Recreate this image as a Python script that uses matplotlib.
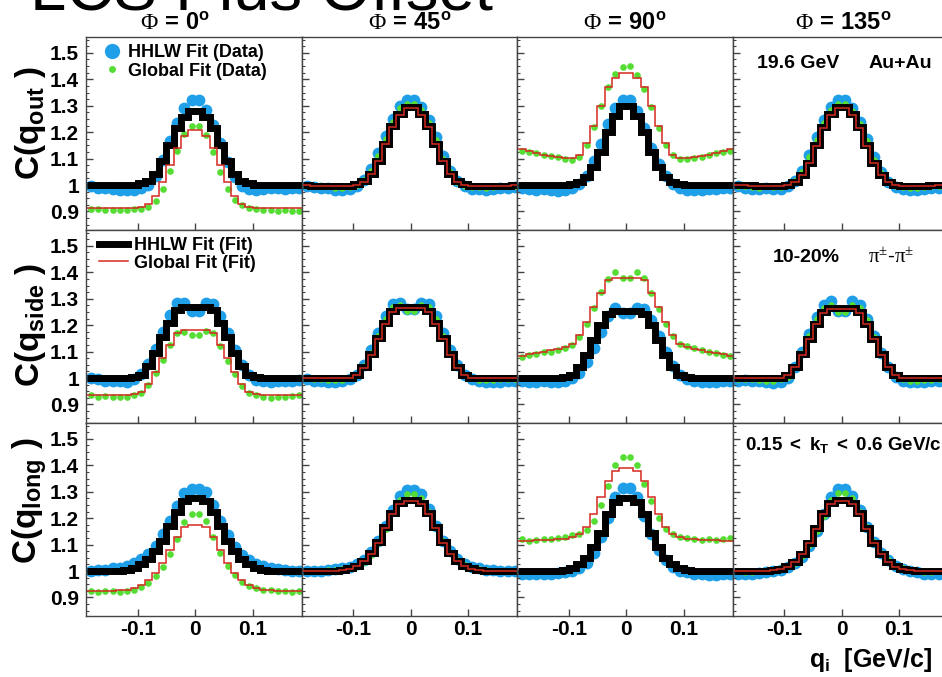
# Correlation functions C(q) in out/side/long vs azimuthal angle, HHLW vs global fit

import numpy as np
import matplotlib
matplotlib.use("Agg")
import matplotlib.pyplot as plt
from matplotlib.lines import Line2D
from matplotlib.ticker import AutoMinorLocator, FixedLocator, FuncFormatter

# Histogram binning in q (GeV/c)
q_edges = np.arange(31) * 0.0125 - 0.1875
q_centers = 0.5 * (q_edges[:-1] + q_edges[1:])

phi_values = ["0", "45", "90", "135"]
projections = ["out", "side", "long"]

# ---- q_out ----
out_0_hhlw_data = [0.995, 0.99, 0.988, 0.985, 0.982, 0.98, 0.983, 0.988, 1.002, 1.035, 1.095, 1.165, 1.235, 1.29, 1.32,
                   1.32, 1.285, 1.228, 1.158, 1.088, 1.03, 0.998, 0.985, 0.982, 0.985, 0.988, 0.99, 0.985, 0.988, 0.99]
out_0_global_data = [0.91, 0.908, 0.905, 0.906, 0.904, 0.905, 0.908, 0.91, 0.918, 0.94, 0.985, 1.055, 1.13, 1.195, 1.225,
                     1.225, 1.19, 1.125, 1.05, 0.985, 0.945, 0.925, 0.915, 0.91, 0.906, 0.904, 0.903, 0.905, 0.903, 0.9]
out_0_hhlw_fit = [1.0, 1.0, 1.0, 1.0, 1.0, 1.0, 1.002, 1.006, 1.016, 1.042, 1.092, 1.153, 1.215, 1.258, 1.28,
                  1.28, 1.258, 1.215, 1.153, 1.092, 1.042, 1.016, 1.006, 1.002, 1.0, 1.0, 1.0, 1.0, 1.0, 1.0]
out_0_global_fit = [0.912, 0.912, 0.912, 0.912, 0.912, 0.912, 0.914, 0.918, 0.929, 0.957, 1.01, 1.075, 1.141, 1.186, 1.21,
                    1.21, 1.186, 1.141, 1.075, 1.01, 0.957, 0.929, 0.918, 0.914, 0.912, 0.912, 0.912, 0.912, 0.912, 0.912]

out_45_hhlw_data = [0.995, 0.993, 0.99, 0.988, 0.982, 0.98, 0.985, 0.995, 1.02, 1.06, 1.12, 1.185, 1.25, 1.30, 1.32,
                    1.32, 1.295, 1.245, 1.18, 1.11, 1.055, 1.015, 0.995, 0.985, 0.985, 0.982, 0.985, 0.988, 0.99, 0.992]
out_45_global_data = [1.0, 0.998, 0.996, 0.995, 0.99, 0.99, 0.993, 1.0, 1.02, 1.052, 1.11, 1.175, 1.24, 1.29, 1.305,
                      1.305, 1.285, 1.235, 1.17, 1.10, 1.048, 1.012, 0.998, 0.993, 0.992, 0.99, 0.993, 0.995, 0.997, 0.997]
out_45_hhlw_fit = [1.0, 0.998, 0.997, 0.996, 0.995, 0.995, 0.998, 1.003, 1.014, 1.042, 1.092, 1.157, 1.222, 1.27, 1.295,
                   1.295, 1.27, 1.222, 1.157, 1.092, 1.042, 1.014, 1.003, 0.998, 0.995, 0.995, 0.996, 0.997, 0.998, 1.0]
out_45_global_fit = [0.999, 0.998, 0.997, 0.996, 0.995, 0.995, 0.997, 1.002, 1.013, 1.041, 1.091, 1.155, 1.219, 1.266, 1.29,
                     1.29, 1.266, 1.219, 1.155, 1.091, 1.041, 1.013, 1.002, 0.997, 0.995, 0.995, 0.996, 0.997, 0.998, 0.999]

out_90_hhlw_data = [0.99, 0.985, 0.982, 0.985, 0.98, 0.978, 0.982, 0.99, 1.005, 1.035, 1.09, 1.155, 1.23, 1.29, 1.32,
                    1.32, 1.28, 1.215, 1.14, 1.08, 1.035, 1.005, 0.99, 0.982, 0.98, 0.982, 0.985, 0.985, 0.988, 0.99]
out_90_global_data = [1.13, 1.125, 1.12, 1.115, 1.11, 1.105, 1.10, 1.095, 1.105, 1.15, 1.22, 1.30, 1.37, 1.42, 1.445,
                      1.45, 1.415, 1.365, 1.295, 1.215, 1.15, 1.112, 1.10, 1.098, 1.102, 1.108, 1.112, 1.12, 1.125, 1.13]
out_90_hhlw_fit = [1.0, 1.0, 1.0, 1.0, 1.0, 1.0, 1.0, 1.003, 1.01, 1.03, 1.07, 1.125, 1.20, 1.262, 1.30,
                   1.30, 1.262, 1.20, 1.125, 1.07, 1.03, 1.01, 1.003, 1.0, 1.0, 1.0, 1.0, 1.0, 1.0, 1.0]
out_90_global_fit = [1.135, 1.127, 1.12, 1.115, 1.11, 1.106, 1.104, 1.104, 1.115, 1.16, 1.225, 1.30, 1.37, 1.405, 1.425,
                     1.425, 1.405, 1.37, 1.30, 1.225, 1.16, 1.115, 1.104, 1.104, 1.106, 1.11, 1.115, 1.12, 1.127, 1.135]

out_135_hhlw_data = [0.995, 0.99, 0.985, 0.985, 0.99, 0.985, 0.985, 0.995, 1.015, 1.055, 1.115, 1.18, 1.245, 1.295, 1.32,
                     1.32, 1.29, 1.24, 1.175, 1.105, 1.05, 1.012, 0.992, 0.985, 0.98, 0.983, 0.985, 0.99, 0.99, 0.988]
out_135_global_data = [0.998, 0.995, 0.993, 0.99, 0.995, 0.992, 0.993, 1.0, 1.015, 1.048, 1.105, 1.17, 1.235, 1.285, 1.305,
                       1.305, 1.28, 1.23, 1.165, 1.095, 1.045, 1.01, 0.997, 0.992, 0.99, 0.99, 0.993, 0.995, 0.995, 0.995]
out_135_hhlw_fit = [1.0, 1.0, 0.999, 0.998, 0.997, 0.997, 0.998, 1.002, 1.012, 1.038, 1.085, 1.15, 1.218, 1.268, 1.295,
                    1.295, 1.268, 1.218, 1.15, 1.085, 1.038, 1.012, 1.002, 0.998, 0.997, 0.997, 0.998, 0.999, 1.0, 1.0]
out_135_global_fit = [1.0, 0.999, 0.998, 0.997, 0.996, 0.996, 0.997, 1.001, 1.011, 1.037, 1.084, 1.148, 1.215, 1.264, 1.29,
                      1.29, 1.264, 1.215, 1.148, 1.084, 1.037, 1.011, 1.001, 0.997, 0.996, 0.996, 0.997, 0.998, 0.999, 1.0]

# ---- q_side ----
side_0_hhlw_data = [1.0, 0.995, 0.99, 0.99, 0.988, 0.985, 0.995, 1.015, 1.055, 1.11, 1.175, 1.24, 1.285, 1.285, 1.255,
                    1.255, 1.285, 1.28, 1.235, 1.17, 1.105, 1.05, 1.012, 0.993, 0.987, 0.985, 0.988, 0.99, 0.99, 0.992]
side_0_global_data = [0.935, 0.93, 0.932, 0.928, 0.93, 0.928, 0.935, 0.945, 0.975, 1.02, 1.07, 1.125, 1.17, 1.175, 1.163,
                      1.163, 1.178, 1.17, 1.12, 1.065, 1.015, 0.97, 0.945, 0.935, 0.928, 0.925, 0.93, 0.93, 0.932, 0.935]
side_0_hhlw_fit = [1.0, 1.0, 1.0, 1.0, 1.0, 1.0, 1.003, 1.013, 1.045, 1.095, 1.155, 1.21, 1.258, 1.27, 1.27,
                   1.27, 1.27, 1.258, 1.21, 1.155, 1.095, 1.045, 1.013, 1.003, 1.0, 1.0, 1.0, 1.0, 1.0, 1.0]
side_0_global_fit = [0.937, 0.937, 0.937, 0.937, 0.937, 0.937, 0.94, 0.949, 0.978, 1.023, 1.076, 1.126, 1.169, 1.18, 1.18,
                     1.18, 1.18, 1.169, 1.126, 1.076, 1.023, 0.978, 0.949, 0.94, 0.937, 0.937, 0.937, 0.937, 0.937, 0.937]

side_45_hhlw_data = [0.995, 0.99, 0.988, 0.985, 0.985, 0.988, 0.995, 1.012, 1.05, 1.105, 1.17, 1.235, 1.28, 1.285, 1.26,
                     1.26, 1.285, 1.28, 1.235, 1.17, 1.105, 1.05, 1.012, 0.995, 0.988, 0.985, 0.985, 0.985, 0.988, 0.99]
side_45_global_data = [1.0, 0.997, 0.995, 0.993, 0.992, 0.993, 1.0, 1.012, 1.045, 1.095, 1.16, 1.225, 1.27, 1.275, 1.255,
                       1.255, 1.275, 1.27, 1.225, 1.16, 1.095, 1.045, 1.012, 1.0, 0.993, 0.992, 0.993, 0.995, 0.997, 0.997]
side_45_hhlw_fit = [1.0, 1.0, 1.0, 1.0, 1.0, 1.0, 1.002, 1.012, 1.04, 1.09, 1.15, 1.21, 1.255, 1.27, 1.27,
                    1.27, 1.27, 1.255, 1.21, 1.15, 1.09, 1.04, 1.012, 1.002, 1.0, 1.0, 1.0, 1.0, 1.0, 1.0]
side_45_global_fit = [0.999, 0.999, 0.999, 0.999, 0.999, 0.999, 1.001, 1.011, 1.039, 1.088, 1.147, 1.206, 1.25, 1.265, 1.265,
                      1.265, 1.265, 1.25, 1.206, 1.147, 1.088, 1.039, 1.011, 1.001, 0.999, 0.999, 0.999, 0.999, 0.999, 0.999]

side_90_hhlw_data = [0.99, 0.985, 0.985, 0.988, 0.985, 0.985, 0.99, 1.0, 1.02, 1.06, 1.115, 1.175, 1.235, 1.265, 1.245,
                     1.245, 1.265, 1.26, 1.22, 1.16, 1.1, 1.045, 1.012, 0.995, 0.988, 0.985, 0.985, 0.985, 0.988, 0.99]
side_90_global_data = [1.08, 1.088, 1.09, 1.097, 1.10, 1.108, 1.115, 1.125, 1.155, 1.205, 1.265, 1.325, 1.375, 1.40, 1.38,
                       1.38, 1.40, 1.38, 1.32, 1.26, 1.205, 1.16, 1.13, 1.12, 1.112, 1.105, 1.10, 1.093, 1.088, 1.085]
side_90_hhlw_fit = [1.0, 1.0, 1.0, 1.0, 1.0, 1.0, 1.003, 1.012, 1.042, 1.088, 1.145, 1.2, 1.243, 1.255, 1.255,
                    1.255, 1.255, 1.243, 1.2, 1.145, 1.088, 1.042, 1.012, 1.003, 1.0, 1.0, 1.0, 1.0, 1.0, 1.0]
side_90_global_fit = [1.085, 1.09, 1.095, 1.10, 1.105, 1.11, 1.118, 1.13, 1.163, 1.212, 1.269, 1.322, 1.369, 1.38, 1.38,
                      1.38, 1.38, 1.369, 1.322, 1.269, 1.212, 1.163, 1.13, 1.118, 1.11, 1.105, 1.10, 1.095, 1.09, 1.085]

side_135_hhlw_data = [0.99, 0.992, 0.99, 0.988, 0.985, 0.98, 0.985, 1.0, 1.04, 1.1, 1.165, 1.23, 1.275, 1.29, 1.255,
                      1.255, 1.29, 1.275, 1.225, 1.16, 1.095, 1.04, 1.005, 0.99, 0.985, 0.985, 0.985, 0.988, 0.99, 0.99]
side_135_global_data = [0.997, 0.995, 0.995, 0.993, 0.99, 0.99, 0.995, 1.005, 1.04, 1.095, 1.16, 1.225, 1.265, 1.275, 1.25,
                        1.25, 1.275, 1.265, 1.22, 1.155, 1.09, 1.04, 1.007, 0.995, 0.99, 0.99, 0.992, 0.993, 0.995, 0.995]
side_135_hhlw_fit = [1.0, 1.0, 1.0, 1.0, 1.0, 1.0, 1.002, 1.012, 1.04, 1.09, 1.148, 1.205, 1.25, 1.265, 1.265,
                     1.265, 1.265, 1.25, 1.205, 1.148, 1.09, 1.04, 1.012, 1.002, 1.0, 1.0, 1.0, 1.0, 1.0, 1.0]
side_135_global_fit = [1.0, 1.0, 1.0, 1.0, 1.0, 1.0, 1.002, 1.012, 1.04, 1.089, 1.146, 1.203, 1.247, 1.262, 1.262,
                       1.262, 1.262, 1.247, 1.203, 1.146, 1.089, 1.04, 1.012, 1.002, 1.0, 1.0, 1.0, 1.0, 1.0, 1.0]

# ---- q_long ----
long_0_hhlw_data = [1.0, 1.003, 1.005, 1.01, 1.013, 1.02, 1.03, 1.045, 1.065, 1.095, 1.14, 1.19, 1.245, 1.295, 1.31,
                    1.31, 1.30, 1.25, 1.19, 1.135, 1.09, 1.06, 1.04, 1.028, 1.02, 1.012, 1.008, 1.005, 1.002, 1.0]
long_0_global_data = [0.925, 0.922, 0.923, 0.925, 0.922, 0.926, 0.93, 0.94, 0.955, 0.98, 1.015, 1.065, 1.12, 1.185, 1.215,
                      1.215, 1.19, 1.13, 1.07, 1.02, 0.985, 0.96, 0.945, 0.935, 0.93, 0.927, 0.925, 0.924, 0.922, 0.925]
long_0_hhlw_fit = [1.0, 1.0, 1.0, 1.0, 1.002, 1.005, 1.012, 1.025, 1.045, 1.075, 1.115, 1.17, 1.225, 1.265, 1.275,
                   1.275, 1.265, 1.225, 1.17, 1.115, 1.075, 1.045, 1.025, 1.012, 1.005, 1.002, 1.0, 1.0, 1.0, 1.0]
long_0_global_fit = [0.925, 0.925, 0.925, 0.925, 0.927, 0.93, 0.936, 0.948, 0.966, 0.993, 1.03, 1.08, 1.129, 1.166, 1.175,
                     1.175, 1.166, 1.129, 1.08, 1.03, 0.993, 0.966, 0.948, 0.936, 0.93, 0.927, 0.925, 0.925, 0.925, 0.925]

long_45_hhlw_data = [1.0, 1.0, 1.002, 1.003, 1.006, 1.01, 1.016, 1.025, 1.042, 1.072, 1.115, 1.17, 1.23, 1.285, 1.305,
                     1.305, 1.29, 1.235, 1.17, 1.115, 1.075, 1.045, 1.028, 1.015, 1.01, 1.005, 1.003, 1.0, 1.0, 1.0]
long_45_global_data = [1.0, 1.0, 1.002, 1.003, 1.005, 1.008, 1.012, 1.02, 1.035, 1.062, 1.105, 1.16, 1.22, 1.27, 1.29,
                       1.29, 1.275, 1.225, 1.165, 1.112, 1.07, 1.04, 1.022, 1.012, 1.006, 1.003, 1.002, 1.0, 1.0, 1.0]
long_45_hhlw_fit = [1.0, 1.0, 1.0, 1.0, 1.001, 1.004, 1.01, 1.02, 1.038, 1.068, 1.11, 1.165, 1.22, 1.258, 1.27,
                    1.27, 1.258, 1.22, 1.165, 1.11, 1.068, 1.038, 1.02, 1.01, 1.004, 1.001, 1.0, 1.0, 1.0, 1.0]
long_45_global_fit = [1.0, 1.0, 1.0, 1.0, 1.001, 1.004, 1.009, 1.019, 1.037, 1.066, 1.108, 1.162, 1.217, 1.254, 1.265,
                      1.265, 1.254, 1.217, 1.162, 1.108, 1.066, 1.037, 1.019, 1.009, 1.004, 1.001, 1.0, 1.0, 1.0, 1.0]

long_90_hhlw_data = [0.99, 0.988, 0.99, 0.988, 0.99, 0.992, 0.995, 1.0, 1.01, 1.03, 1.07, 1.13, 1.2, 1.28, 1.315,
                     1.315, 1.28, 1.21, 1.14, 1.08, 1.04, 1.015, 1.002, 0.995, 0.99, 0.988, 0.985, 0.985, 0.988, 0.99]
long_90_global_data = [1.12, 1.115, 1.118, 1.12, 1.123, 1.125, 1.13, 1.135, 1.14, 1.155, 1.19, 1.25, 1.32, 1.40, 1.43,
                       1.43, 1.40, 1.33, 1.265, 1.2, 1.16, 1.14, 1.13, 1.125, 1.12, 1.118, 1.12, 1.118, 1.122, 1.125]
long_90_hhlw_fit = [1.0, 1.0, 1.0, 1.0, 1.0, 1.0, 1.005, 1.012, 1.025, 1.05, 1.09, 1.145, 1.215, 1.262, 1.275,
                    1.275, 1.262, 1.215, 1.145, 1.09, 1.05, 1.025, 1.012, 1.005, 1.0, 1.0, 1.0, 1.0, 1.0, 1.0]
long_90_global_fit = [1.115, 1.115, 1.116, 1.117, 1.118, 1.12, 1.122, 1.128, 1.14, 1.165, 1.215, 1.28, 1.34, 1.38, 1.39,
                      1.39, 1.38, 1.34, 1.28, 1.215, 1.165, 1.14, 1.128, 1.122, 1.12, 1.118, 1.117, 1.116, 1.115, 1.115]

long_135_hhlw_data = [0.99, 0.988, 0.99, 0.992, 0.995, 1.0, 1.005, 1.015, 1.03, 1.055, 1.095, 1.15, 1.215, 1.28, 1.31,
                      1.31, 1.285, 1.23, 1.165, 1.11, 1.07, 1.04, 1.02, 1.008, 1.0, 0.995, 0.99, 0.988, 0.988, 0.99]
long_135_global_data = [1.0, 0.998, 0.998, 1.0, 1.002, 1.005, 1.01, 1.018, 1.032, 1.058, 1.098, 1.15, 1.21, 1.27, 1.295,
                        1.295, 1.275, 1.225, 1.165, 1.11, 1.07, 1.04, 1.02, 1.01, 1.004, 1.0, 0.998, 0.998, 1.0, 1.0]
long_135_hhlw_fit = [1.0, 1.0, 1.0, 1.0, 1.0, 1.003, 1.008, 1.018, 1.036, 1.066, 1.108, 1.163, 1.218, 1.258, 1.27,
                     1.27, 1.258, 1.218, 1.163, 1.108, 1.066, 1.036, 1.018, 1.008, 1.003, 1.0, 1.0, 1.0, 1.0, 1.0]
long_135_global_fit = [1.0, 1.0, 1.0, 1.0, 1.0, 1.003, 1.008, 1.017, 1.035, 1.065, 1.106, 1.16, 1.215, 1.254, 1.265,
                       1.265, 1.254, 1.215, 1.16, 1.106, 1.065, 1.035, 1.017, 1.008, 1.003, 1.0, 1.0, 1.0, 1.0, 1.0]


def plot_outputs():
    plt.rcParams["font.family"] = ["Liberation Sans", "DejaVu Sans"]
    plt.rcParams["mathtext.fontset"] = "custom"
    plt.rcParams["mathtext.rm"] = "Liberation Sans"
    plt.rcParams["mathtext.bf"] = "Liberation Sans:bold"
    plt.rcParams["mathtext.it"] = "Liberation Sans:italic"
    plt.rcParams["mathtext.sf"] = "Liberation Serif"  # used for the greek letters

    blue = "#1f9fe8"
    green = "#55dd33"
    red = "#d42a20"
    frame = "#444444"

    g = globals()
    panels = {}
    for proj in projections:
        for phi in phi_values:
            key = proj + "_" + phi
            panels[(proj, phi)] = (
                g[key + "_hhlw_data"],
                g[key + "_global_data"],
                g[key + "_hhlw_fit"],
                g[key + "_global_fit"],
            )

    W, H = 942, 677
    fig = plt.figure(figsize=(W / 100, H / 100), dpi=100)

    col_left = [86, 301.5, 517, 732.5]
    col_w = 215.5
    row_top = [37, 230, 423]
    row_h = 193

    axarr = {}
    for i, proj in enumerate(projections):
        for j, phi in enumerate(phi_values):
            ax = fig.add_axes([col_left[j] / W, 1 - (row_top[i] + row_h) / H, col_w / W, row_h / H])
            axarr[(i, j)] = ax
            hd, gd, hf, gf = panels[(proj, phi)]

            ax.plot(q_centers, hd, "o", color=blue, ms=8.5, mec="none", zorder=1)
            ax.plot(q_centers, gd, "o", color=green, ms=4.8, mec="none", zorder=2)
            ax.stairs(hf, q_edges, baseline=None, color="k", linewidth=5, zorder=3)
            ax.stairs(gf, q_edges, baseline=None, color=red, linewidth=1.1, zorder=4)

            ax.set_xlim(-0.19, 0.185)
            ax.set_ylim(0.83, 1.56)
            ax.xaxis.set_major_locator(FixedLocator([-0.1, 0, 0.1]))
            ax.yaxis.set_major_locator(FixedLocator([0.9, 1.0, 1.1, 1.2, 1.3, 1.4, 1.5]))
            ax.yaxis.set_minor_locator(AutoMinorLocator(4))
            ax.yaxis.set_major_formatter(FuncFormatter(lambda v, p: "%g" % round(v, 2)))
            ax.xaxis.set_major_formatter(FuncFormatter(lambda v, p: "%g" % round(v, 2)))
            ax.tick_params(axis="both", which="both", direction="in", color=frame,
                           top=False, right=False)
            ax.tick_params(axis="x", which="major", length=5, width=1, pad=3,
                           labelsize=15, labelbottom=(i == 2))
            ax.tick_params(axis="y", which="major", length=5, width=1, pad=5,
                           labelsize=15, labelleft=(j == 0))
            ax.tick_params(axis="y", which="minor", length=2.5, width=0.8)
            for lab in ax.get_xticklabels() + ax.get_yticklabels():
                lab.set_fontweight("bold")
            for sp in ax.spines.values():
                sp.set_color(frame)
                sp.set_linewidth(1.0)

    # Legends
    data_handles = [
        Line2D([], [], marker="o", ls="none", color=blue, ms=11, mec="none"),
        Line2D([], [], marker="o", ls="none", color=green, ms=5, mec="none"),
    ]
    axarr[(0, 0)].legend(data_handles, ["HHLW Fit (Data)", "Global Fit (Data)"],
                         loc="upper left", bbox_to_anchor=(0.01, 1.03), frameon=False,
                         prop={"weight": "bold", "size": 13}, handlelength=1.2,
                         handletextpad=0.3, labelspacing=0.1, borderaxespad=0.3)
    fit_handles = [
        Line2D([], [], color="k", lw=5),
        Line2D([], [], color=red, lw=1.1),
    ]
    axarr[(1, 0)].legend(fit_handles, ["HHLW Fit (Fit)", "Global Fit (Fit)"],
                         loc="upper left", bbox_to_anchor=(0.0, 1.03), frameon=False,
                         prop={"weight": "bold", "size": 13}, handlelength=1.6,
                         handletextpad=0.35, labelspacing=0.05, borderaxespad=0.3)

    # Annotations in the last column
    ax = axarr[(0, 3)]
    ax.text(0.116, 0.865, "19.6 GeV", transform=ax.transAxes, fontsize=14,
            fontweight="bold", va="center", ha="left")
    ax.text(0.63, 0.865, "Au+Au", transform=ax.transAxes, fontsize=14,
            fontweight="bold", va="center", ha="left")
    ax = axarr[(1, 3)]
    ax.text(0.185, 0.855, "10-20%", transform=ax.transAxes, fontsize=14,
            fontweight="bold", va="center", ha="left")
    ax.text(0.63, 0.86, r"$\mathsf{\pi^{\pm}}$-$\mathsf{\pi^{\pm}}$", transform=ax.transAxes,
            fontsize=15, va="center", ha="left")
    ax = axarr[(2, 3)]
    ax.text(0.06, 0.886, r"$\mathbf{0.15\ <\ k_{T}\ <\ 0.6\ GeV/c}$", transform=ax.transAxes,
            fontsize=13.5, va="center", ha="left")

    # Column titles
    title_x = [175, 410, 625, 843]
    for j, phi in enumerate(phi_values):
        fig.text(title_x[j] / W, 1 - 30 / H, r"$\mathsf{\Phi}\,\mathbf{=}\,\mathbf{%s^{o}}$" % phi,
                 fontsize=17, ha="center", va="baseline")

    # Row labels
    label_y = [123, 325, 501]
    for i, proj in enumerate(projections):
        fig.text(30 / W, 1 - label_y[i] / H, r"$\mathbf{C(q_{%s}\ )}$" % proj,
                 fontsize=24, rotation=90, ha="center", va="center")

    # x axis title
    fig.text(932 / W, 1 - 667 / H, r"$\mathbf{q_{i}\ \ [GeV/c]}$", fontsize=18,
             ha="right", va="baseline")

    # slide heading, cut off at the top of the image
    fig.text(30 / W, 1 - 9 / H, "LCS Plus Offset", fontsize=47, ha="left", va="baseline")

    fig.savefig("out.png", dpi=100)


if __name__ == "__main__":
    plot_outputs()
